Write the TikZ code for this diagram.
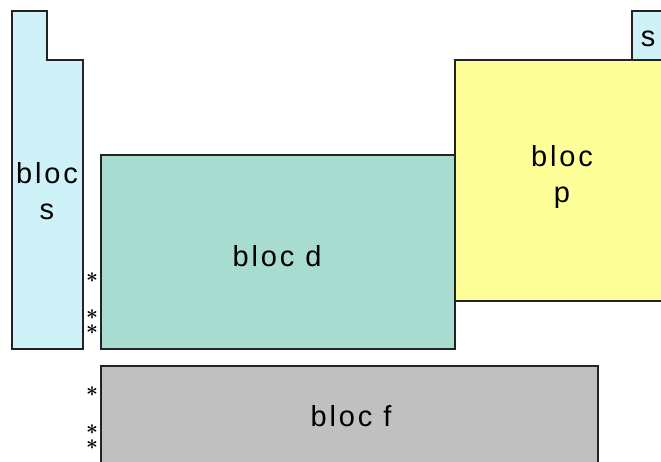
\documentclass[tikz,border=0pt]{standalone}
\usepackage{fontspec}
\setmainfont{Liberation Sans}
\usepackage{tikz}

\definecolor{sblue}{RGB}{206,242,248}
\definecolor{dgreen}{RGB}{168,220,208}
\definecolor{pyellow}{RGB}{255,255,153}
\definecolor{fgray}{RGB}{192,192,192}
\definecolor{edge}{RGB}{35,35,35}

\begin{document}
\begin{tikzpicture}[x=1pt, y=-1pt,
        block/.style={draw=edge, line width=1.7pt},
        label/.style={align=center, font=\fontsize{29}{36}\selectfont\addfontfeature{LetterSpace=10}, inner sep=0pt},
        starmark/.style={align=center, font=\fontsize{22}{15}\selectfont\boldmath, inner sep=0pt}]
    \useasboundingbox (0,0) rectangle (661,462);
    \clip (0,0) rectangle (661,462);

    % blocs
    \draw[block, fill=sblue] (12,11) -- (47,11) -- (47,60) -- (83,60) -- (83,349) -- (12,349) -- cycle;
    \draw[block, fill=sblue] (632,11) rectangle (670,60);
    \draw[block, fill=pyellow] (455,60) rectangle (670,301);
    \draw[block, fill=dgreen] (101,155) rectangle (455,349);
    \draw[block, fill=fgray] (101,366) rectangle (598,470);

    % textes
    \node[label] (bs) at (47,191) {bloc\\s};
    \node[label] (bs2) at (648,39) {s};
    \node[label] (bp) at (562,177) {bloc\\p};
    \node[label] (bd) at (277,256) {bloc d};
    \node[label] (bf) at (351,416) {bloc f};

    % asterisques
    \foreach \y/\t [count=\i] in {278/{$\ast$}, 322.5/{$\ast$\\$\ast$}, 392/{$\ast$}, 437.5/{$\ast$\\$\ast$}}
        \node[starmark] (a\i) at (92,\y) {\t};
\end{tikzpicture}
\end{document}
